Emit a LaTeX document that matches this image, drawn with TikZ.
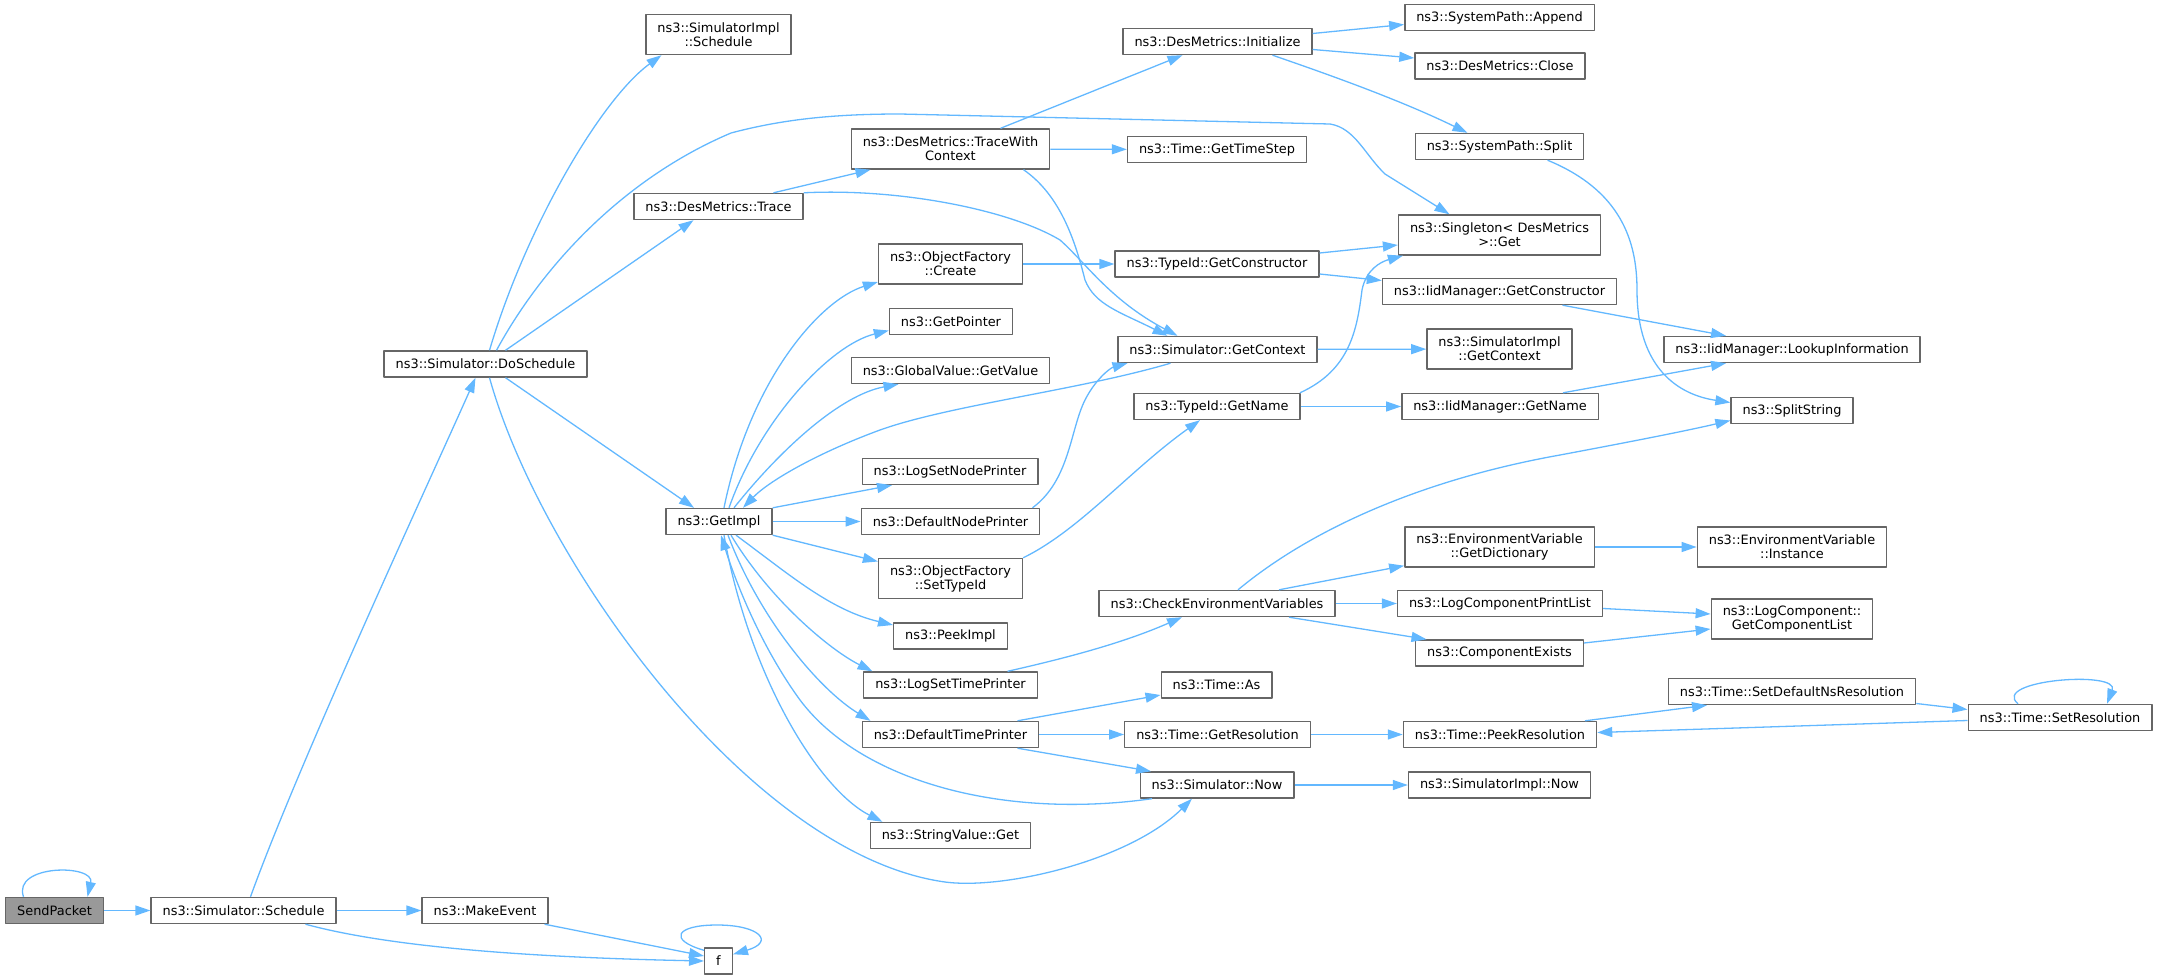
\documentclass[tikz,border=0pt]{standalone}
\usepackage{fontspec}
\setmainfont{DejaVu Sans}
\usetikzlibrary{arrows.meta}
\definecolor{edgeblue}{HTML}{63B8FF}
\definecolor{boxgray}{HTML}{666666}
\definecolor{rootgray}{HTML}{999999}
\begin{document}
\begin{tikzpicture}[x=1pt,y=-1pt,line join=round,>={Triangle[length=15pt,width=10pt]},
    font=\fontsize{12.9}{14}\selectfont,
    fn/.style={draw=boxgray,line width=1.4pt,fill=white,inner xsep=11.5pt,inner ysep=2pt,minimum height=26pt,align=center},
    fntwo/.style={fn,minimum height=40pt},
    call/.style={->,draw=edgeblue,line width=1.3pt}]
                \useasboundingbox (0,0) rectangle (2157,979);
                \node[fn,fill=rootgray] (sendpacket) at (54.5,910.5) {SendPacket};
                \node[fn] (sched) at (243.5,910.5) {ns3::Simulator::Schedule};
                \node[fn] (dosched) at (485.5,364) {ns3::Simulator::DoSchedule};
                \node[fn] (makeevent) at (485,910.5) {ns3::MakeEvent};
                \node[fn] (f) at (718.5,961) {f};
                \node[fntwo] (simimplsched) at (718.5,34.5) {ns3::SimulatorImpl\\::Schedule};
                \node[fn] (trace) at (718.5,206.5) {ns3::DesMetrics::Trace};
                \node[fn] (getimpl) at (719,521.5) {ns3::GetImpl};
                \node[fntwo] (twc) at (950.5,149) {ns3::DesMetrics::TraceWith\\Context};
                \node[fntwo] (create) at (950.5,264) {ns3::ObjectFactory\\::Create};
                \node[fn] (getpointer) at (951,321.5) {ns3::GetPointer};
                \node[fn] (getvalue) at (950.5,370.5) {ns3::GlobalValue::GetValue};
                \node[fn] (lognodepr) at (950,471.5) {ns3::LogSetNodePrinter};
                \node[fn] (defnodepr) at (950.5,521.5) {ns3::DefaultNodePrinter};
                \node[fntwo] (settypeid) at (950.5,578.5) {ns3::ObjectFactory\\::SetTypeId};
                \node[fn] (peekimpl) at (950.5,636) {ns3::PeekImpl};
                \node[fn] (logtimepr) at (950.5,685) {ns3::LogSetTimePrinter};
                \node[fn] (deftimepr) at (950.5,734.5) {ns3::DefaultTimePrinter};
                \node[fn] (stringget) at (950.5,835.5) {ns3::StringValue::Get};
                \node[fn] (init) at (1217.5,41.5) {ns3::DesMetrics::Initialize};
                \node[fn] (timestep) at (1217,149.5) {ns3::Time::GetTimeStep};
                \node[fn] (getctor) at (1217,264) {ns3::TypeId::GetConstructor};
                \node[fn] (getctx) at (1217.5,349.5) {ns3::Simulator::GetContext};
                \node[fn] (getname) at (1217,406.5) {ns3::TypeId::GetName};
                \node[fn] (checkenv) at (1217,603.5) {ns3::CheckEnvironmentVariables};
                \node[fn] (timeas) at (1216.5,685) {ns3::Time::As};
                \node[fn] (getres) at (1217.5,734.5) {ns3::Time::GetResolution};
                \node[fn] (simnow) at (1217,785) {ns3::Simulator::Now};
                \node[fn] (append) at (1499.5,17.5) {ns3::SystemPath::Append};
                \node[fn] (close) at (1500,66) {ns3::DesMetrics::Close};
                \node[fn] (split) at (1499.5,146.5) {ns3::SystemPath::Split};
                \node[fntwo] (singleton) at (1499.5,235) {ns3::Singleton< DesMetrics\\ >::Get};
                \node[fn] (iidctor) at (1499.5,291.5) {ns3::IidManager::GetConstructor};
                \node[fntwo] (implctx) at (1499.5,349) {ns3::SimulatorImpl\\::GetContext};
                \node[fn] (iidname) at (1500,406.5) {ns3::IidManager::GetName};
                \node[fntwo] (getdict) at (1499.5,547) {ns3::EnvironmentVariable\\::GetDictionary};
                \node[fn] (printlist) at (1500,603.5) {ns3::LogComponentPrintList};
                \node[fn] (compexists) at (1499.5,653) {ns3::ComponentExists};
                \node[fn] (peekres) at (1500,734.5) {ns3::Time::PeekResolution};
                \node[fn] (implnow) at (1499.5,785) {ns3::SimulatorImpl::Now};
                \node[fn] (lookup) at (1792,349.5) {ns3::IidManager::LookupInformation};
                \node[fn] (splitstr) at (1792,410.5) {ns3::SplitString};
                \node[fntwo] (instance) at (1792,547) {ns3::EnvironmentVariable\\::Instance};
                \node[fntwo] (complist) at (1792,619) {ns3::LogComponent::\\GetComponentList};
                \node[fn] (setdefres) at (1792,691.5) {ns3::Time::SetDefaultNsResolution};
                \node[fn] (setres) at (2060,717.5) {ns3::Time::SetResolution};
                \draw[call] ([xshift=-31pt]sendpacket.north) .. controls (12,864) and (95,864) .. ([xshift=33pt]sendpacket.north);
                \draw[call] (sendpacket) -- (sched);
                \draw[call] ([xshift=7pt]sched.north) .. controls (300,760) and (430,480) .. ([xshift=-10pt]dosched.south);
                \draw[call] (sched) -- (makeevent);
                \draw[call] ([xshift=62pt]sched.south) .. controls (400,950) and (560,958) .. (f.west);
                \draw[call] ([xshift=-4pt]makeevent.south east) -- ([yshift=5pt]f.west);
                \draw[call] ([yshift=-3pt]f.north west) .. controls (668,940) and (675,925) .. (717,925) .. controls (760,925) and (775,942) .. ([yshift=-7pt]f.north east);
                \draw[call] ([xshift=4pt]dosched.north) .. controls (525,230) and (600,100) .. ([xshift=-57pt]simimplsched.south);
                \draw[call] ([xshift=11pt]dosched.north) .. controls (540,270) and (620,180) .. (731,133) .. controls (780,120) and (830,114) .. (900,114) -- (1330,124) .. controls (1355,128) and (1365,155) .. (1385,174) -- ([xshift=-50pt]singleton.north);
                \draw[call] ([xshift=20pt]dosched.north) -- ([xshift=-25pt]trace.south);
                \draw[call] ([xshift=20pt]dosched.south) -- ([xshift=-25pt]getimpl.north);
                \draw[call] ([xshift=4pt]dosched.south) .. controls (540,560) and (750,855) .. (945,882) .. controls (1005,890) and (1130,860) .. ([xshift=-25pt]simnow.south);
                \draw[call] ([xshift=55pt]trace.north) -- ([xshift=-80pt]twc.south);
                \draw[call] (trace.north east) .. controls (900,188) and (1010,210) .. (1060,240) .. controls (1085,262) and (1110,300) .. ([xshift=-40pt]getctx.north);
                \draw[call] ([xshift=50pt]twc.north) -- ([xshift=-35pt]init.south);
                \draw[call] (twc) -- (timestep);
                \draw[call] ([xshift=73pt]twc.south) .. controls (1060,195) and (1075,240) .. (1085,280) .. controls (1095,305) and (1120,312) .. ([xshift=-50pt]getctx.north);
                \draw[call] ([yshift=8pt]init.east) -- ([yshift=-7pt]append.west);
                \draw[call] ([yshift=-8pt]init.east) -- ([yshift=8pt]close.west);
                \draw[call] ([xshift=55pt]init.south) .. controls (1330,75) and (1400,100) .. ([xshift=-32pt]split.north);
                \draw[call] ([xshift=48pt]split.south) .. controls (1620,190) and (1637,240) .. (1637,290) .. controls (1637,370) and (1680,395) .. ([yshift=8pt]splitstr.west);
                \draw[call] (create) -- (getctor);
                \draw[call] ([yshift=11pt]getctor.east) -- ([yshift=-10pt]singleton.west);
                \draw[call] ([yshift=-10pt]getctor.east) -- ([yshift=11pt]iidctor.west);
                \draw[call] ([xshift=63pt]iidctor.south) -- ([xshift=-66pt]lookup.north);
                \draw[call] (getctx) -- (implctx);
                \draw[call] ([xshift=-47pt]getctx.south) .. controls (1080,390) and (950,405) .. (880,430) .. controls (820,452) and (770,480) .. ([xshift=24pt]getimpl.north);
                \draw[call] ([xshift=83pt]getname.north) .. controls (1350,370) and (1357,330) .. (1362,290) .. controls (1366,270) and (1380,262) .. ([xshift=5pt]singleton.south west);
                \draw[call] (getname) -- (iidname);
                \draw[call] ([xshift=63pt]iidname.north) -- ([xshift=-66pt]lookup.south);
                \draw[call] ([xshift=5pt]getimpl.north) .. controls (750,380) and (820,300) .. ([yshift=-18pt]create.west);
                \draw[call] ([xshift=10pt]getimpl.north) .. controls (760,420) and (830,345) .. ([yshift=-9pt]getpointer.west);
                \draw[call] ([xshift=15pt]getimpl.north) .. controls (780,450) and (840,395) .. ([xshift=-52pt]getvalue.south);
                \draw[call] (getimpl.north east) -- ([xshift=-58pt]lognodepr.south);
                \draw[call] (getimpl) -- (defnodepr);
                \draw[call] (getimpl.south east) -- ([yshift=17pt]settypeid.west);
                \draw[call] ([xshift=17pt]getimpl.south) .. controls (790,575) and (830,610) .. ([yshift=11pt]peekimpl.west);
                \draw[call] ([xshift=12pt]getimpl.south) .. controls (770,600) and (830,650) .. ([xshift=-78pt]logtimepr.north);
                \draw[call] ([xshift=9pt]getimpl.south) .. controls (760,620) and (820,690) .. ([xshift=-80pt]deftimepr.north);
                \draw[call] ([xshift=5pt]getimpl.south) .. controls (750,680) and (820,790) .. ([xshift=-68pt]stringget.north);
                \draw[call] ([xshift=82pt]defnodepr.north) .. controls (1070,480) and (1070,430) .. (1085,400) .. controls (1095,380) and (1110,368) .. ([xshift=-90pt]getctx.south);
                \draw[call] (settypeid.north east) .. controls (1080,530) and (1130,470) .. ([xshift=-17pt]getname.south);
                \draw[call] ([xshift=57pt]logtimepr.north) .. controls (1080,655) and (1130,640) .. ([xshift=-35pt]checkenv.south);
                \draw[call] ([xshift=21pt]checkenv.north) .. controls (1310,530) and (1420,480) .. (1560,455) .. controls (1640,440) and (1690,430) .. ([yshift=-10pt]splitstr.west);
                \draw[call] ([xshift=62pt]checkenv.north) -- ([yshift=2pt]getdict.south west);
                \draw[call] (checkenv) -- (printlist);
                \draw[call] ([xshift=72pt]checkenv.south) -- ([xshift=-73pt]compexists.north);
                \draw[call] (getdict) -- (instance);
                \draw[call] ([yshift=-5pt]printlist.east) -- ([yshift=5pt]complist.west);
                \draw[call] ([yshift=10pt]compexists.east) -- ([yshift=-10pt]complist.west);
                \draw[call] ([xshift=67pt]deftimepr.north) -- ([yshift=-10pt]timeas.west);
                \draw[call] (deftimepr) -- (getres);
                \draw[call] ([xshift=67pt]deftimepr.south) -- ([xshift=-66pt]simnow.north);
                \draw[call] (getres) -- (peekres);
                \draw[call] ([xshift=85pt]peekres.north) -- ([xshift=-85pt]setdefres.south);
                \draw[call] ([yshift=-12pt]setdefres.east) -- ([yshift=8pt]setres.west);
                \draw[call] ([yshift=-3pt]setres.west) -- ([yshift=2pt]peekres.east);
                \draw[call] ([xshift=-42pt]setres.north) .. controls (1990,680) and (2120,670) .. ([xshift=47pt]setres.north);
                \draw[call] ([xshift=-65pt]simnow.south) .. controls (1000,820) and (860,780) .. (800,700) .. controls (760,645) and (735,580) .. ([xshift=2pt]getimpl.south);
                \draw[call] (simnow) -- (implnow);
            \end{tikzpicture}
\end{document}
